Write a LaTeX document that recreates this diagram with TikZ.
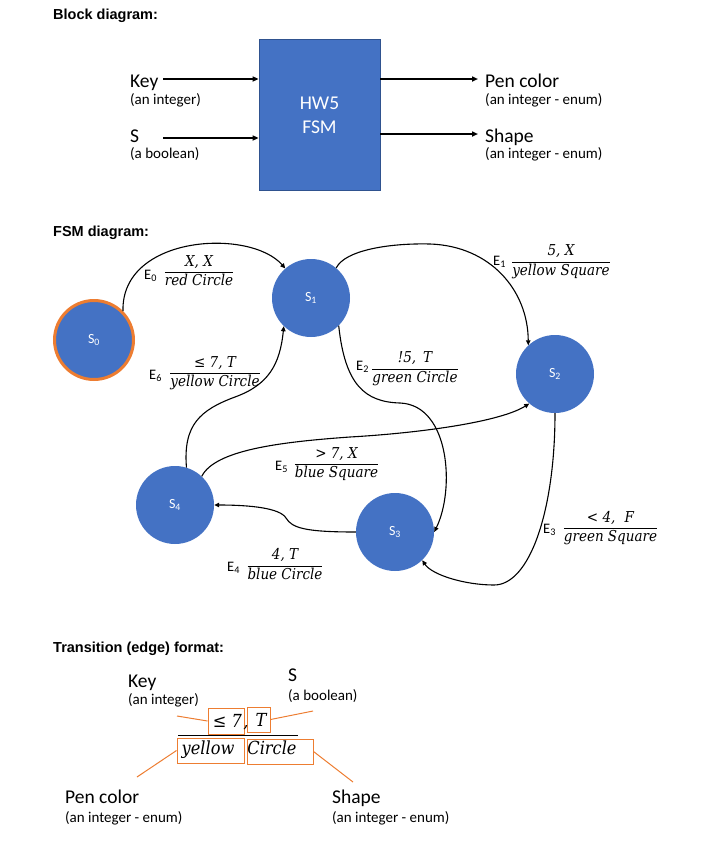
\documentclass[tikz,border=0pt]{standalone}
\usepackage[no-math]{fontspec}
\setmainfont{Carlito}
\newfontfamily\hfont{Liberation Sans}
\newfontfamily\mfont{DejaVu Serif}[FakeStretch=0.9]
\usetikzlibrary{arrows.meta}
\definecolor{fsmblue}{HTML}{4472C4}
\definecolor{fsmedge}{HTML}{2F528F}
\definecolor{ringor}{HTML}{ED7D31}
\newcommand{\efr}[2]{$\displaystyle\frac{\hbox{\mfont\itshape #1}}{\hbox{\mfont\itshape #2}}$}
\newcommand{\mi}[1]{\mfont\itshape #1}
\begin{document}
\begin{tikzpicture}[x=1pt,y=-1pt,
  title/.style={font=\hfont\bfseries\fontsize{14.5}{17}\selectfont, anchor=base west, inner sep=0},
  big/.style={font=\fontsize{19.5}{22}\selectfont, anchor=base west, inner sep=0},
  small/.style={font=\fontsize{15}{18}\selectfont, anchor=base west, inner sep=0},
  state/.style={circle, fill=fsmblue, minimum size=78pt, inner sep=0, text=white, font=\fontsize{14}{16}\selectfont},
  initstate/.style={state, draw=ringor, line width=3pt, minimum size=79pt},
  elabel/.style={font=\fontsize{14.5}{16}\selectfont, anchor=base west, inner sep=0},
  fracl/.style={font=\fontsize{15}{18}\selectfont, anchor=base, inner sep=0},
  fmt/.style={font=\fontsize{18}{22}\selectfont, anchor=base, inner sep=0},
  edge/.style={line width=1.1pt, -{Triangle[length=5pt,width=4.5pt]}},
  barr/.style={line width=1.5pt, -{Triangle[length=6pt,width=5pt]}},
  obox/.style={draw=ringor, line width=1pt, inner sep=0},
  oline/.style={draw=ringor, line width=1pt}]
\useasboundingbox (0,0) rectangle (720,846);

% ---------- Block diagram ----------
\node[title] (t1) at (53,19) {Block diagram:};
\node[draw=fsmedge, fill=fsmblue, minimum width=121pt, minimum height=151pt, inner sep=0, line width=0.75pt] (fsm) at (319.5,114.5) {};
\node[big, text=white, anchor=base] (hw) at (319.5,109) {HW5};
\node[big, text=white, anchor=base] (fsmt) at (319.5,133) {FSM};
\node[big] (key) at (130,87) {Key};
\node[small] (keyt) at (130,104) {(an integer)};
\node[big] (s) at (130,142) {S};
\node[small] (st) at (130,158) {(a boolean)};
\node[big] (pen) at (485,87) {Pen color};
\node[small] (pent) at (485,104) {(an integer - enum)};
\node[big] (shape) at (485,142) {Shape};
\node[small] (shapet) at (485,158) {(an integer - enum)};
\coordinate (kin) at (163,79);
\coordinate (sin) at (163,138);
\coordinate (pout) at (478,79);
\coordinate (shout) at (478,134);
\draw[barr] (kin) -- (kin -| fsm.west);
\draw[barr] (sin) -- (sin -| fsm.west);
\draw[barr] (pout -| fsm.east) -- (pout);
\draw[barr] (shout -| fsm.east) -- (shout);

% ---------- FSM diagram ----------
\node[title] (t2) at (53,236) {FSM diagram:};
\node[initstate] (S0) at (94,340) {S\textsubscript{0}};
\node[state] (S1) at (311,298) {S\textsubscript{1}};
\node[state] (S2) at (555,374) {S\textsubscript{2}};
\node[state] (S3) at (395,532) {S\textsubscript{3}};
\node[state] (S4) at (175,505) {S\textsubscript{4}};

\draw[edge] (S0.45) .. controls (121,235) and (250,228) .. (S1.131);
\draw[edge] (S1.50) .. controls (345,250) and (390,243) .. (430,244) .. controls (490,246) and (528,290) .. (S2.133);
\draw[edge] (S1.-45) .. controls (345,385) and (365,402) .. (400,403) .. controls (450,405) and (455,490) .. (S3.east);
\draw[edge] (S2.south) .. controls (555,510) and (530,585) .. (494,585) .. controls (465,585) and (432,575) .. (S3.-46);
\draw[edge] (S3.west) .. controls (305,532) and (292,528) .. (286,518) .. controls (280,508) and (250,505) .. (S4.east);
\draw[edge] (S4.47) .. controls (215,450) and (280,442) .. (350,437) .. controls (420,433) and (500,422) .. (S2.-131);
\draw[edge] (S4.73) .. controls (183,425) and (200,410) .. (235,397) .. controls (268,385) and (280,365) .. (S1.-134);

\node[elabel] (e0) at (144,279) {E\textsubscript{0}};
\node[elabel] (e1) at (493,265) {E\textsubscript{1}};
\node[elabel] (e2) at (356,370) {E\textsubscript{2}};
\node[elabel] (e3) at (543,533) {E\textsubscript{3}};
\node[elabel] (e4) at (227,571) {E\textsubscript{4}};
\node[elabel] (e5) at (275,470) {E\textsubscript{5}};
\node[elabel] (e6) at (149,379) {E\textsubscript{6}};

\node[fracl] (f0) at (199,276) {\efr{X, X}{red Circle}};
\node[fracl] (f1) at (561,265.5) {\efr{5, X}{yellow Square}};
\node[fracl] (f2) at (415,372.7) {\efr{!5,\, T}{green Circle}};
\node[fracl] (f3) at (610.5,532) {\efr{< 4,\, \,F}{green Square}};
\node[fracl] (f4) at (285,569.5) {\efr{4, T}{blue Circle}};
\node[fracl] (f5) at (336.5,468) {\efr{> 7, X}{blue Square}};
\node[fracl] (f6) at (215,377) {\efr{≤ 7, T}{yellow Circle}};

% ---------- Transition format ----------
\node[title] (t3) at (53,652) {Transition (edge) format:};
\node[big] (key2) at (128,687) {Key};
\node[small] (key2t) at (128,704) {(an integer)};
\node[big] (s2) at (288,681) {S};
\node[small] (s2t) at (288,700) {(a boolean)};
\node[big] (pen2) at (65,803) {Pen color};
\node[small] (pen2t) at (65,822) {(an integer - enum)};
\node[big] (shape2) at (332,803) {Shape};
\node[small] (shape2t) at (332,822) {(an integer - enum)};

\node[obox, minimum width=36pt, minimum height=26pt] (bkey) at (226,721) {};
\node[obox, minimum width=23pt, minimum height=25pt] (bs) at (258.5,719.5) {};
\node[obox, minimum width=67pt, minimum height=25pt] (bpen) at (210.5,750.5) {};
\node[obox, minimum width=66pt, minimum height=25pt] (bshape) at (280,751.5) {};
\node[fmt] (tkey) at (227.5,727) {\mi{≤ 7}};
\node[fmt] (tcomma) at (246,727) {\mi{,}};
\node[fmt] (ts) at (261,726) {\mi{T}};
\node[fmt] (tpen) at (208,754) {\mi{yellow}};
\node[fmt] (tshape) at (272,754) {\mi{Circle}};
\draw[line width=0.8pt] (178,735) -- (298,735);

\coordinate (kl) at (177,716);
\coordinate (sl) at (313,711);
\coordinate (pl) at (137,777);
\coordinate (shl) at (353,782);
\draw[oline] (kl) -- (bkey.west);
\draw[oline] (bs.east) -- (sl);
\draw[oline] (bpen.west) -- (pl);
\draw[oline] (bshape.east) -- (shl);
\end{tikzpicture}
\end{document}
